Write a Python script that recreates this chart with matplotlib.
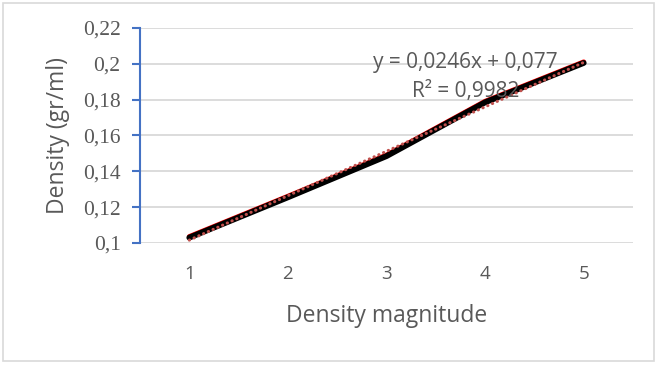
import matplotlib
matplotlib.use("Agg")
import matplotlib.pyplot as plt
import numpy as np
from matplotlib.patches import Rectangle

# data
magnitude = [1, 2, 3, 4, 5]
density = [0.103, 0.1255, 0.1485, 0.1785, 0.2005]
y_ticks = [0.10, 0.12, 0.14, 0.16, 0.18, 0.20, 0.22]
y_tick_labels = ["0,1", "0,12", "0,14", "0,16", "0,18", "0,2", "0,22"]
equation = "y = 0,0246x + 0,077"
r_squared = "R² = 0,9982"

grey = "#595959"
fig = plt.figure(figsize=(6.57, 3.67), dpi=100)
fig.patches.append(Rectangle((0.005, 0.016), 0.99, 0.975, transform=fig.transFigure,
                             fill=False, edgecolor="#D9D9D9", linewidth=1.2))
ax = fig.add_axes([0.2131, 0.3379, 0.7504, 0.5858])

x = np.array(magnitude)
y = np.array(density)

# series: black line with a thin red edge
ax.plot(x, y + 0.0006, color="red", linewidth=3.5, solid_capstyle="round", zorder=3)
ax.plot(x, y, color="black", linewidth=4.2, solid_capstyle="round", zorder=4)

# linear trend line
slope, intercept = np.polyfit(x, y, 1)
ax.plot(x, slope * x + intercept, color="#C0504D", linewidth=2.2,
        linestyle=(0, (0.1, 1.6)), dash_capstyle="round", zorder=5)

ax.set_xlim(0.5, 5.5)
ax.set_ylim(0.1, 0.22)
ax.set_xticks(magnitude)
ax.set_xticklabels([str(m) for m in magnitude], fontsize=13.5,
                   family="Open Sans", color=grey)
ax.set_yticks(y_ticks)
ax.set_yticklabels(y_tick_labels, fontsize=15.5,
                   family="Liberation Serif", color=grey)

ax.grid(axis="y", color="#D9D9D9", linewidth=1.3)
ax.set_axisbelow(True)
for side in ["top", "right", "bottom"]:
    ax.spines[side].set_visible(False)
ax.spines["left"].set_color("#4472C4")
ax.spines["left"].set_linewidth(1.5)
ax.tick_params(axis="y", direction="out", length=6, width=1.5,
               color="#4472C4", pad=8)
ax.tick_params(axis="x", length=0, pad=16)

ax.set_xlabel("Density magnitude", fontsize=16.5, family="Open Sans",
              color=grey, labelpad=15)
ax.set_ylabel("Density (gr/ml)", fontsize=16.5, family="Open Sans",
              color=grey, labelpad=9)

ax.text(3.8, 0.2005, equation, fontsize=15, family="Open Sans",
        color=grey, ha="center", va="center", zorder=6)
ax.text(3.8, 0.1845, r_squared, fontsize=15, family="Open Sans",
        color=grey, ha="center", va="center", zorder=6)

fig.savefig("out.png", dpi=100)
